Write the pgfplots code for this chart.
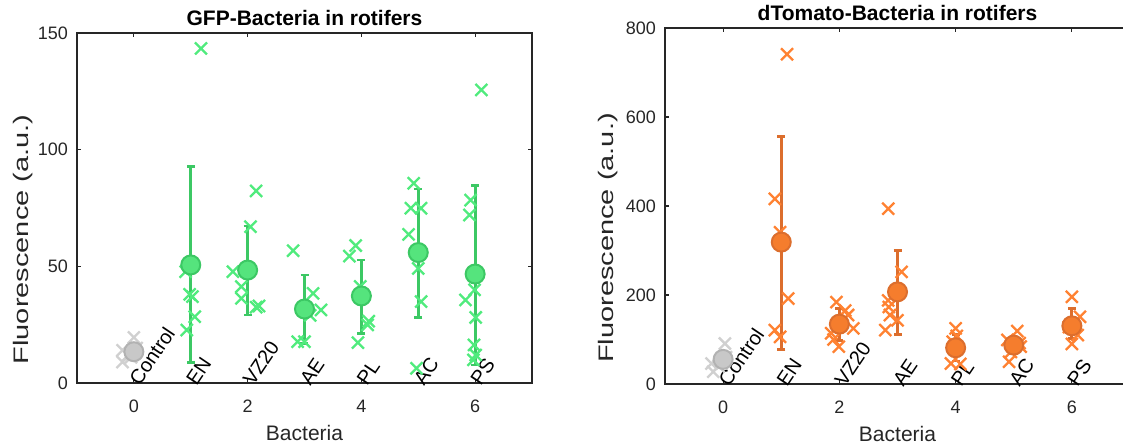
\documentclass[border=0pt]{standalone}
\usepackage{pgfplots}
\pgfplotsset{compat=1.18}
\usepackage{graphicx}
\usepackage{fontspec}
\setmainfont{Liberation Sans}
\definecolor{axc}{RGB}{38,38,38}
\definecolor{gcross}{RGB}{80,235,125}
\definecolor{gline}{RGB}{60,200,100}
\definecolor{gfill}{RGB}{85,228,125}
\definecolor{ocross}{RGB}{255,130,50}
\definecolor{oline}{RGB}{220,110,45}
\definecolor{ofill}{RGB}{245,125,45}
\definecolor{kcross}{RGB}{208,208,208}
\definecolor{kline}{RGB}{178,178,178}
\definecolor{kfill}{RGB}{200,200,200}
\tikzset{catlab/.style={rotate=56, anchor=west, inner sep=0pt, font=\fontsize{20}{22}\selectfont, color=black}}
\pgfplotsset{
  myax/.style={
    scale only axis, anchor=south west, clip=false,
    xmin=-1, xmax=7, xtick={0,2,4,6},
    tick align=inside, major tick length=4pt,
    axis line style={line width=1.6pt, color=axc},
    every tick/.style={line width=1.2pt, color=axc},
    tick label style={font=\fontsize{18}{20}\selectfont, color=axc},
    /pgf/number format/assume math mode=true,
    xticklabel style={anchor=base, yshift=-29.5pt},
    yticklabel style={anchor=east, inner sep=0pt, xshift=-9pt},
    title style={font=\bfseries\fontsize{21}{24}\selectfont, color=black, at={(0.5,1)}, anchor=base, yshift=1pt},
    xlabel style={font=\fontsize{21}{24}\selectfont, color=axc, at={(0.5,0)}, anchor=base, yshift=-58pt},
    ylabel style={font=\fontsize{21}{24}\selectfont, color=axc, anchor=center},
    xlabel={Bacteria},
    ylabel={\scalebox{1.38}[1]{Fluorescence (a.u.)}},
  },
  crossg/.style={only marks, mark=x, mark size=8.5pt, mark options={line width=2.3pt, color=gcross}},
  crosso/.style={only marks, mark=x, mark size=8.5pt, mark options={line width=2.3pt, color=ocross}},
  crossk/.style={only marks, mark=x, mark size=8.5pt, mark options={line width=2.3pt, color=kcross}},
  meanst/.style 2 args={only marks, mark=*, mark size=9.5pt,
    mark options={fill=#1, draw=#2, line width=2pt},
    error bars/.cd, y dir=both, y explicit,
    error bar style={line width=2.8pt, color=#2},
    error mark options={rotate=90, line width=2.8pt, mark size=4pt, color=#2}},
}
\begin{document}
\begin{tikzpicture}[x=1pt,y=1pt]
\useasboundingbox (0,0) rectangle (1123,446);
% ---------------- Left: GFP ----------------
\begin{axis}[myax, at={(77pt,63pt)}, width=455pt, height=350pt,
  ymin=0, ymax=150, ytick={0,50,100,150},
  title={GFP-Bacteria in rotifers},
  ylabel style={at={(rel axis cs:-0.1187,0.41)}}]
\addplot[crossk] coordinates {(0.0,19.5) (-0.2,14) (-0.2,9) (-0.05,11) (0.05,15) (-0.1,12)};
\addplot[meanst={kfill}{kline}] coordinates {(0,13.4)};
\addplot[crossg] coordinates {
 (1.18,143.4) (0.91,47.7) (0.98,38) (1.03,37) (1.07,28.4) (0.93,22.7)
 (2.15,82.3) (2.05,67) (1.74,47.7) (1.89,41.3) (1.89,36.3) (2.15,32.5) (2.2,33)
 (2.80,56.7) (3.15,38.4) (3.29,31.3) (3.1,29) (2.88,17.7) (3.0,17.7)
 (3.9,58.9) (3.79,54.4) (3.98,41.4) (4.11,24.9) (4.13,26.5) (3.94,17.3)
 (4.92,85.6) (4.87,74.9) (5.05,74.9) (4.83,63.7) (5.0,49.1) (5.05,34.9) (4.97,6.3)
 (6.11,125.6) (5.92,78.4) (5.9,72) (5.83,35.6) (5.99,39.9) (6.01,28.1) (5.98,16.3) (6.01,12) (5.97,9.9)
};
\addplot[meanst={gfill}{gline}] coordinates {
 (1,50.6) += (0,42.1) -= (0,41.9)
 (2,48.4) += (0,18.9) -= (0,19.3)
 (3,31.7) += (0,14.6) -= (0,14.7)
 (4,37.3) += (0,15.4) -= (0,16.0)
 (5,55.9) += (0,27.2) -= (0,27.8)
 (6,46.7) += (0,37.9) -= (0,39.0)
};
\node[catlab] at (axis cs:0,0) {Control};
\node[catlab] at (axis cs:1,0) {EN};
\node[catlab] at (axis cs:2,0) {VZ20};
\node[catlab] at (axis cs:3,0) {AE};
\node[catlab] at (axis cs:4,0) {PL};
\node[catlab] at (axis cs:5,0) {AC};
\node[catlab] at (axis cs:6,0) {PS};
\end{axis}
% ---------------- Right: dTomato ----------------
\begin{axis}[myax, at={(665pt,62pt)}, width=465pt, height=356pt,
  ymin=0, ymax=800, ytick={0,200,400,600,800},
  title={dTomato-Bacteria in rotifers},
  ylabel style={at={(rel axis cs:-0.1226,0.41)}}]
\addplot[crossk] coordinates {(0.03,91) (-0.2,46) (-0.17,27.6) (0.05,60) (-0.08,40)};
\addplot[meanst={kfill}{kline}] coordinates {(0,55.3)};
\addplot[crosso] coordinates {
 (1.1,741) (0.89,416) (0.98,341) (1.12,192) (0.89,121) (0.98,106)
 (1.95,184) (2.1,165) (2.15,155) (2.24,125) (1.86,114) (1.9,100) (1.99,84)
 (2.84,394) (3.07,252) (2.84,188) (2.85,173) (2.87,155) (3.0,143) (2.79,121)
 (4.0,125) (4.02,108) (3.95,95) (3.92,46) (4.08,45)
 (5.06,119) (4.89,99) (5.1,92) (5.12,84) (4.95,72) (4.92,50)
 (6.0,196) (6.14,151) (5.95,128) (6.1,110) (6.0,90)
};
\addplot[meanst={ofill}{oline}] coordinates {
 (1,318.9) += (0,237.6) -= (0,240.5)
 (2,134.5) += (0,35.1) -= (0,35.9)
 (3,207) += (0,93) -= (0,95)
 (4,81.4) += (0,30.6) -= (0,29.9)
 (5,87.4) += (0,17.6) -= (0,17.4)
 (6,130.7) += (0,38.9) -= (0,28.7)
};
\node[catlab] at (axis cs:0,0) {Control};
\node[catlab] at (axis cs:1,0) {EN};
\node[catlab] at (axis cs:2,0) {VZ20};
\node[catlab] at (axis cs:3,0) {AE};
\node[catlab] at (axis cs:4,0) {PL};
\node[catlab] at (axis cs:5,0) {AC};
\node[catlab] at (axis cs:6,0) {PS};
\end{axis}
\end{tikzpicture}
\end{document}
